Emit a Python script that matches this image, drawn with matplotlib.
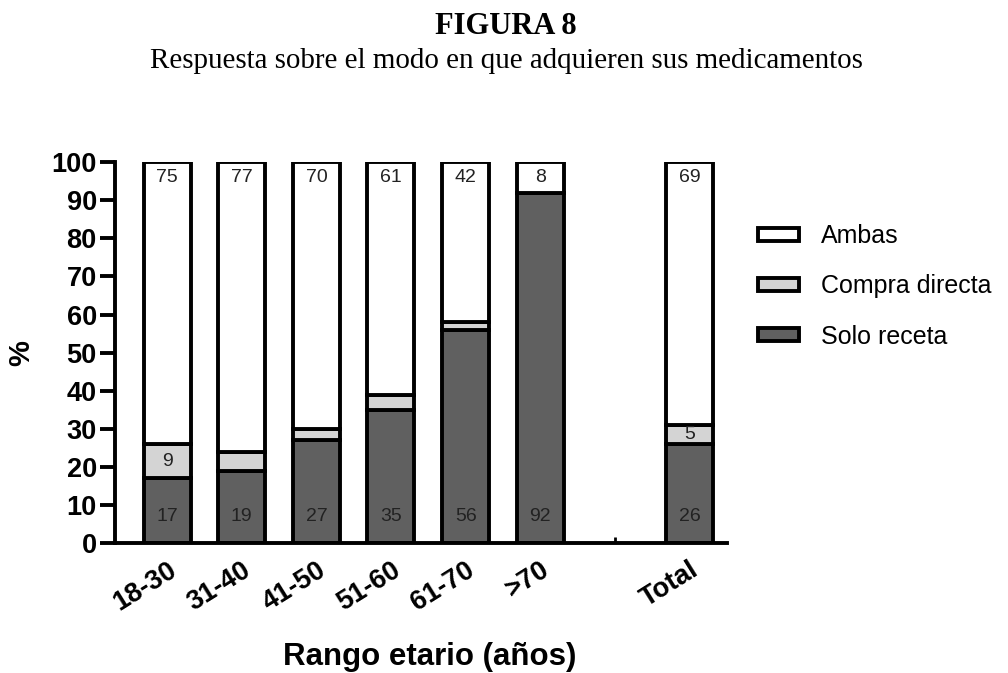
import matplotlib
matplotlib.use("Agg")
import matplotlib.pyplot as plt
import matplotlib.transforms as mtransforms
import numpy as np

# data (percent)
grupos = ["18-30", "31-40", "41-50", "51-60", "61-70", ">70", "Total"]
solo_receta = [17, 19, 27, 35, 56, 92, 26]
compra_directa = [9, 5, 3, 4, 2, 0, 5]
ambas = [75, 77, 70, 61, 42, 8, 69]
posiciones = [0, 1, 2, 3, 4, 5, 7]
etiq_compra = [True, False, False, False, False, False, True]

c_solo, c_compra, c_ambas = "#606060", "#d4d4d4", "#ffffff"
lw = 2.8
sans = "Liberation Sans"

fig = plt.figure(figsize=(10.08, 6.73), dpi=100)
ax = fig.add_axes([0.114, 0.193, 0.607, 0.566])

x = np.array(posiciones, dtype=float)
solo = np.array(solo_receta, dtype=float)
comp = np.array(compra_directa, dtype=float)
base_ambas = solo + comp
w = 0.63

ax.bar(x, solo, w, color=c_solo, edgecolor="black", linewidth=lw, label="Solo receta", zorder=2)
ax.bar(x, comp, w, bottom=solo, color=c_compra, edgecolor="black", linewidth=lw,
       label="Compra directa", zorder=2)
# ambas fills the rest of the bar up to 100 %
ax.bar(x, 100 - base_ambas, w, bottom=base_ambas, color=c_ambas, edgecolor="black",
       linewidth=lw, label="Ambas", zorder=2)

for xi, s, c, a, show in zip(x, solo_receta, compra_directa, ambas, etiq_compra):
    ax.text(xi, 7, str(s), ha="center", va="center", fontsize=14, color="#222222",
            family=sans, zorder=3)
    ax.text(xi, 96, str(a), ha="center", va="center", fontsize=14, color="#222222",
            family=sans, zorder=3)
    if show:
        ax.text(xi, s + c / 2, str(c), ha="center", va="center", fontsize=14,
                color="#222222", family=sans, zorder=3)

ax.set_xlim(-0.7, 7.5)
ax.set_ylim(0, 100)
ax.set_yticks(np.arange(0, 101, 10))
ax.set_xticks(np.arange(0, 8))
ax.set_xticklabels(["18-30", "31-40", "41-50", "51-60", "61-70", ">70", "", "Total"],
                   rotation=32, ha="right", rotation_mode="anchor",
                   fontsize=19.5, fontweight="bold", family=sans)
shift = mtransforms.ScaledTranslation(-5 / 100, 0, fig.dpi_scale_trans)
for lab in ax.get_xticklabels():
    lab.set_transform(lab.get_transform() + shift)
for lab in ax.get_yticklabels():
    lab.set_fontsize(19.5)
    lab.set_fontweight("bold")
    lab.set_family(sans)

ax.tick_params(axis="y", direction="out", length=11, width=lw, pad=2)
ax.tick_params(axis="x", direction="in", length=4, width=2, pad=10)
for sp in ["top", "right"]:
    ax.spines[sp].set_visible(False)
for sp in ["left", "bottom"]:
    ax.spines[sp].set_linewidth(lw)

ax.set_ylabel("%", fontsize=21, fontweight="bold", family=sans)
ax.yaxis.set_label_coords(-0.131, 0.5)
ax.set_xlabel("Rango etario (años)", fontsize=22.5, fontweight="bold", family=sans)
ax.xaxis.set_label_coords((430 - 115) / 612, -0.26)

h, l = ax.get_legend_handles_labels()
leg = ax.legend(h[::-1], l[::-1], loc="upper left", bbox_to_anchor=(1.03, 0.87),
                frameon=False, borderpad=0, handlelength=1.65, handleheight=0.4,
                labelspacing=1.05, handletextpad=0.9, prop={"family": sans, "size": 18})
for p in leg.get_patches():
    p.set_linewidth(lw)

fig.text(0.502, 1 - 27 / 673, "FIGURA 8", ha="center", va="center", fontsize=22,
         fontweight="bold", family="Liberation Serif")
fig.text(0.502, 1 - 68 / 673, "Respuesta sobre el modo en que adquieren sus medicamentos",
         ha="center", va="baseline", fontsize=20.9, family="Liberation Serif")

fig.savefig("out.png", dpi=100)
